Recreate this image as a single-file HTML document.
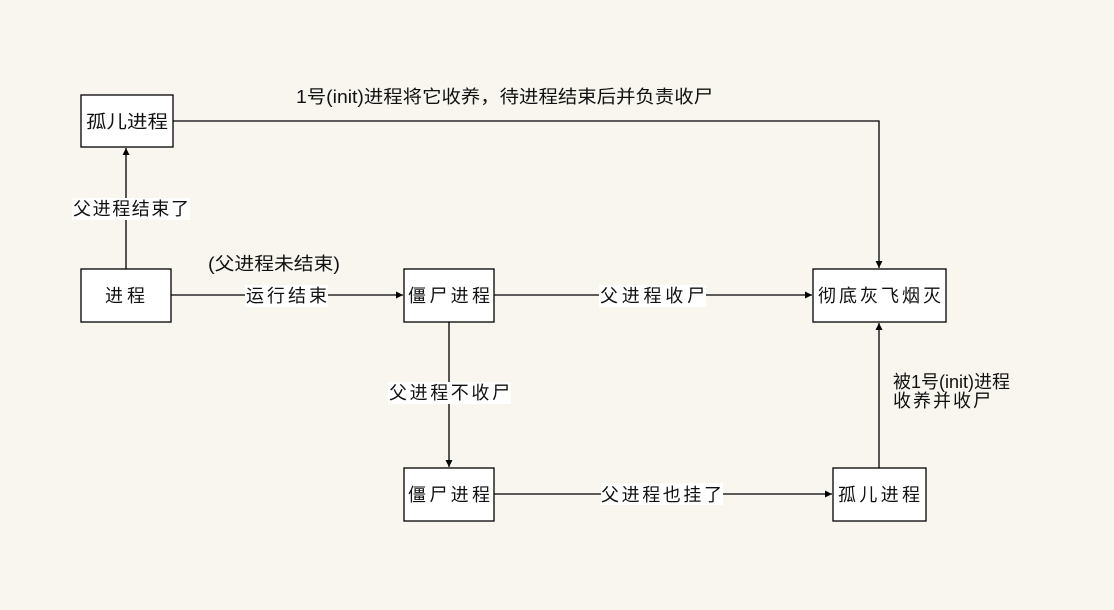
<!DOCTYPE html>
<html><head><meta charset="utf-8"><style>
html,body{margin:0;padding:0;background:#f9f6ef;}
svg{display:block;}
text{font-family:"Liberation Sans","Noto Sans CJK SC","WenQuanYi Zen Hei",sans-serif;font-size:18px;fill:#111;}
</style></head><body>
<svg width="1114" height="610" viewBox="0 0 1114 610" xmlns="http://www.w3.org/2000/svg">
<defs><marker id="a" markerWidth="8" markerHeight="8" refX="7" refY="4" orient="auto" markerUnits="userSpaceOnUse"><path d="M0,0.5 L7,4 L0,7.5 Z" fill="#000"/></marker></defs>
<rect width="1114" height="610" fill="#f9f6ef"/>
<g stroke="#000" stroke-width="1.3" fill="none">
<polyline points="173,121 879,121 879,268" marker-end="url(#a)"/>
<line x1="126" y1="269" x2="126" y2="148" marker-end="url(#a)"/>
<line x1="171" y1="295" x2="403" y2="295" marker-end="url(#a)"/>
<line x1="494" y1="295" x2="812" y2="295" marker-end="url(#a)"/>
<line x1="449" y1="322" x2="449" y2="467" marker-end="url(#a)"/>
<line x1="494" y1="494" x2="832" y2="494" marker-end="url(#a)"/>
<line x1="879" y1="468" x2="879" y2="323" marker-end="url(#a)"/>
</g>
<g fill="#fff" stroke="#000" stroke-width="1.3">
<rect x="81" y="95" width="92" height="52"/>
<rect x="81" y="269" width="90" height="53"/>
<rect x="404" y="269" width="90" height="53"/>
<rect x="813" y="269" width="133" height="53"/>
<rect x="404" y="468" width="90" height="53"/>
<rect x="833" y="468" width="93" height="53"/>
</g>
<g fill="#fff">
<rect x="72" y="198" width="118" height="22"/>
<rect x="245" y="285" width="83" height="22"/>
<rect x="599" y="285" width="107" height="22"/>
<rect x="388" y="382" width="123" height="22"/>
<rect x="601" y="483" width="122" height="22"/>
</g>
<text x="86" y="128" textLength="82" lengthAdjust="spacingAndGlyphs">孤儿进程</text>
<text x="105" y="302" textLength="40">进程</text>
<text x="408" y="302" textLength="82">僵尸进程</text>
<text x="818" y="302" textLength="123">彻底灰飞烟灭</text>
<text x="408" y="501" textLength="82">僵尸进程</text>
<text x="838" y="501" textLength="82">孤儿进程</text>
<text x="296" y="103" textLength="417" lengthAdjust="spacingAndGlyphs">1号(init)进程将它收养，待进程结束后并负责收尸</text>
<text x="73" y="215" textLength="116">父进程结束了</text>
<text x="208" y="270" textLength="132" lengthAdjust="spacingAndGlyphs">(父进程未结束)</text>
<text x="246" y="302" textLength="81">运行结束</text>
<text x="600" y="302" textLength="105">父进程收尸</text>
<text x="389" y="399" textLength="121">父进程不收尸</text>
<text x="601" y="501" textLength="121">父进程也挂了</text>
<text x="893" y="388" textLength="117" lengthAdjust="spacingAndGlyphs">被1号(init)进程</text>
<text x="893" y="407" textLength="98">收养并收尸</text>
</svg>
</body></html>
